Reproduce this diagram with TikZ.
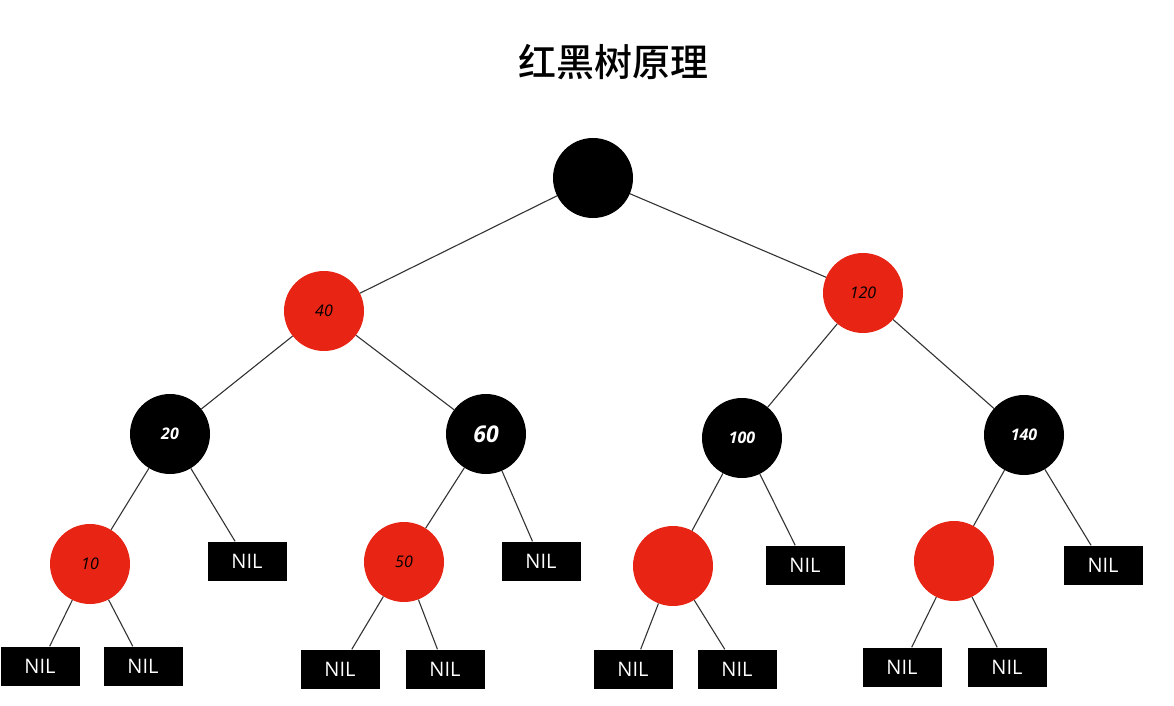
\documentclass[tikz,border=0pt]{standalone}
\usepackage{fontspec}
\setsansfont{Open Sans}
\newfontfamily\cjk[BoldFont={Noto Sans CJK SC Medium}]{Noto Sans CJK SC}
\definecolor{rbred}{RGB}{232,36,20}
\begin{document}
\begin{tikzpicture}[x=1pt,y=-1pt,
  blk/.style={circle,fill=black,minimum size=80pt,inner sep=0pt,text=white,font=\sffamily\bfseries\itshape\fontsize{16}{16}\selectfont},
  red/.style={circle,fill=rbred,minimum size=80pt,inner sep=0pt,text=black,font=\sffamily\itshape\fontsize{16}{16}\selectfont},
  nil/.style={rectangle,fill=black,minimum width=79pt,minimum height=39pt,inner sep=0pt,text=white,font=\sffamily\fontsize{20}{20}\selectfont},
  edge/.style={draw=black!80,line width=1.1pt}]
\useasboundingbox (0,0) rectangle (1174,706);
\node[font=\cjk\bfseries\fontsize{38}{38}\selectfont] (title) at (613,62) {红黑树原理};
\node[blk] (root) at (593,178) {};
\node[red] (n40) at (324,311) {40};
\node[red] (n120) at (863,293) {120};
\node[blk] (n20) at (170,434) {20};
\node[blk,font=\sffamily\bfseries\itshape\fontsize{23}{23}\selectfont] (n60) at (486,434) {60};
\node[blk] (n100) at (742,438) {100};
\node[blk] (n140) at (1024,435) {140};
\node[red] (n10) at (90,564) {10};
\node[red] (n50) at (404,562) {50};
\node[red] (r1) at (673,566) {};
\node[red] (r2) at (954,561) {};
\node[nil] (a1) at (247,561) {NIL};
\node[nil] (a2) at (541,561) {NIL};
\node[nil] (a3) at (805,565) {NIL};
\node[nil] (a4) at (1103,565) {NIL};
\node[nil] (b1) at (40,666) {NIL};
\node[nil] (b2) at (143,666) {NIL};
\node[nil] (b3) at (340,669) {NIL};
\node[nil] (b4) at (445,669) {NIL};
\node[nil] (b5) at (633,669) {NIL};
\node[nil] (b6) at (737,669) {NIL};
\node[nil] (b7) at (902,667) {NIL};
\node[nil] (b8) at (1007,667) {NIL};
\draw[edge] (root) -- (n40);
\draw[edge] (root) -- (n120);
\draw[edge] (n40) -- (n20);
\draw[edge] (n40) -- (n60);
\draw[edge] (n120) -- (n100);
\draw[edge] (n120) -- (n140);
\draw[edge] (n20) -- (n10);
\draw[edge] (n20) -- (a1);
\draw[edge] (n60) -- (n50);
\draw[edge] (n60) -- (a2);
\draw[edge] (n100) -- (r1);
\draw[edge] (n100) -- (a3);
\draw[edge] (n140) -- (r2);
\draw[edge] (n140) -- (a4);
\draw[edge] (n10) -- (b1);
\draw[edge] (n10) -- (b2);
\draw[edge] (n50) -- (b3);
\draw[edge] (n50) -- (b4);
\draw[edge] (r1) -- (b5);
\draw[edge] (r1) -- (b6);
\draw[edge] (r2) -- (b7);
\draw[edge] (r2) -- (b8);
\end{tikzpicture}
\end{document}
